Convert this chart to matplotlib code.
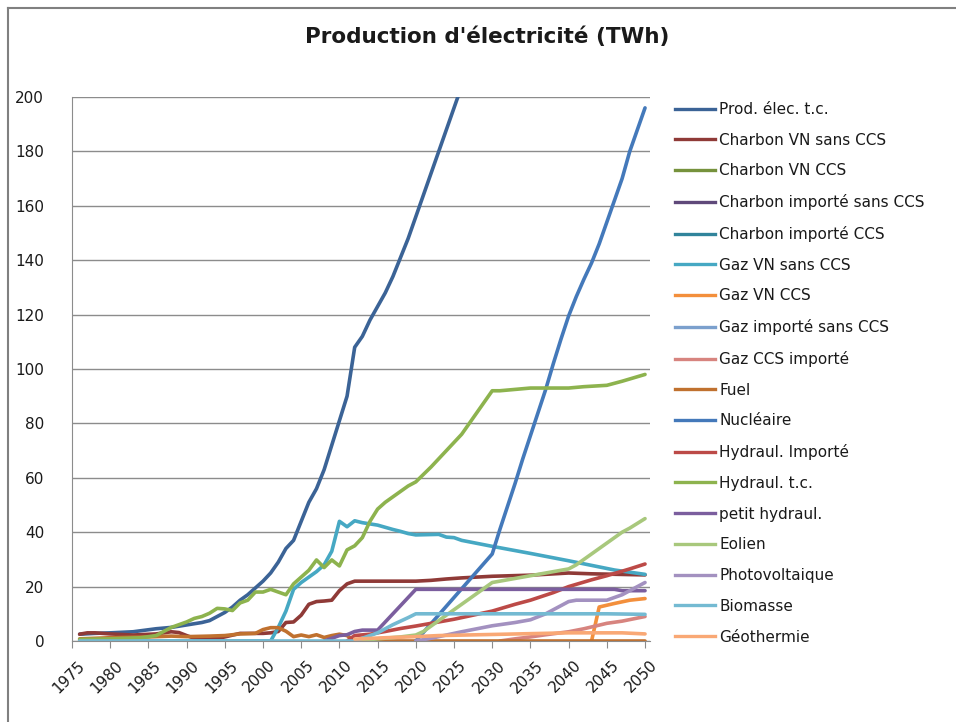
import matplotlib
matplotlib.use("Agg")
import numpy as np
import matplotlib.pyplot as plt
import matplotlib.transforms as mtransforms
from matplotlib.lines import Line2D

# Production d'électricité par filière (TWh), valeurs annuelles
prod_years = [1976, 1978, 1980, 1983, 1986, 1988, 1990, 1992, 1993, 1994, 1995,
              1996, 1997, 1998, 1999, 2000, 2001, 2002, 2003, 2004, 2005, 2006,
              2007, 2008, 2009, 2010, 2011, 2012, 2013, 2014, 2015, 2016, 2017,
              2018, 2019, 2020, 2021, 2022, 2023, 2024, 2025, 2026]
prod_vals = [2.5, 2.8, 3, 3.4, 4.5, 5, 5.9, 6.8, 7.5, 9, 10.5,
             12.5, 15, 17, 19.5, 22, 25, 29, 34, 37, 44, 51,
             56, 63, 72, 81, 90, 108, 112, 118, 123, 128, 134,
             141, 148, 156, 164, 172, 180, 188, 196, 204]

charbon_vn_years = [1976, 1977, 1978, 1980, 1983, 1986, 1988, 1989, 1990, 1991,
                    1992, 1994, 1995, 1997, 2000, 2001, 2002, 2003, 2004, 2005,
                    2006, 2007, 2008, 2009, 2010, 2011, 2012, 2015, 2020, 2022,
                    2024, 2026, 2030, 2035, 2040, 2043, 2050]
charbon_vn_vals = [2.5, 3, 3, 2.6, 2.2, 2.6, 3.4, 3.1, 2, 1,
                   0.6, 0.9, 1.5, 2.8, 2.8, 3, 3.5, 6.8, 7, 9.5,
                   13.5, 14.5, 14.7, 15, 18.5, 21, 22, 22, 22, 22.3,
                   22.8, 23.2, 23.8, 24.2, 25, 24.7, 24.3]

charbon_vn_ccs_years = []
charbon_vn_ccs_vals = []
charbon_imp_years = []
charbon_imp_vals = []
charbon_imp_ccs_years = []
charbon_imp_ccs_vals = []

gaz_vn_years = [1976, 2001, 2002, 2003, 2004, 2005, 2006, 2007, 2008, 2009, 2010,
                2011, 2012, 2013, 2015, 2017, 2018, 2019, 2020, 2023, 2024, 2025,
                2026, 2030, 2035, 2040, 2046, 2050]
gaz_vn_vals = [0, 0, 5, 11, 19, 21.5, 23.5, 25.5, 28, 33, 44,
               42, 44.2, 43.5, 42.6, 41, 40.3, 39.5, 39, 39.2, 38.2, 38,
               37, 34.8, 32.2, 29.5, 26.1, 24.5]

gaz_vn_ccs_years = [2043, 2044, 2046, 2048, 2050]
gaz_vn_ccs_vals = [0, 12.5, 13.8, 15, 15.6]

gaz_imp_years = []
gaz_imp_vals = []

gaz_ccs_imp_years = [2031, 2033, 2035, 2037, 2040, 2042, 2045, 2047, 2050]
gaz_ccs_imp_vals = [0, 0.8, 1.5, 2.3, 3.4, 4.5, 6.5, 7.3, 9]

fuel_years = [1976, 1980, 1985, 1988, 1990, 1993, 1995, 1997, 1999, 2000, 2001,
              2002, 2003, 2004, 2005, 2006, 2007, 2008, 2009, 2010, 2011, 2012,
              2050]
fuel_vals = [0.8, 1.2, 1.5, 1.8, 1.6, 1.8, 2, 2.6, 2.8, 4.2, 4.9,
             4.9, 3.6, 1.6, 2.2, 1.6, 2.3, 1.3, 2, 2.5, 2, 0,
             0]

nucl_years = [2020, 2025, 2030, 2031, 2032, 2033, 2034, 2035, 2036, 2037, 2038,
              2039, 2040, 2041, 2042, 2043, 2044, 2045, 2046, 2047, 2048, 2049,
              2050]
nucl_vals = [0, 16, 32, 41, 49.5, 58, 67, 75.5, 84, 92.5, 102,
             111, 119.5, 126.6, 133, 139, 146, 154, 162, 170, 180, 188,
             196]

hydro_imp_years = [2011, 2012, 2014, 2016, 2018, 2020, 2022, 2025, 2028, 2030,
                   2033, 2035, 2038, 2040, 2043, 2045, 2048, 2050]
hydro_imp_vals = [0, 2, 2.5, 3.5, 4.6, 5.5, 6.5, 8, 9.8, 11,
                  13.5, 15, 17.8, 20, 22.5, 24, 26.5, 28.3]

hydro_years = [1976, 1980, 1984, 1986, 1987, 1988, 1989, 1990, 1991, 1992, 1993,
               1994, 1995, 1996, 1997, 1998, 1999, 2000, 2001, 2002, 2003, 2004,
               2005, 2006, 2007, 2008, 2009, 2010, 2011, 2012, 2013, 2014, 2015,
               2016, 2017, 2018, 2019, 2020, 2022, 2024, 2026, 2027, 2028, 2029,
               2030, 2031, 2033, 2035, 2040, 2042, 2045, 2047, 2050]
hydro_vals = [0.6, 0.8, 1.2, 2, 3.5, 5, 6, 7, 8.3, 9, 10.2,
              12, 11.8, 11.2, 14, 15, 18, 18, 19, 18, 17, 21,
              23.5, 26, 29.8, 27, 29.8, 27.6, 33.5, 35, 38, 44, 48.5,
              51, 53, 55, 57, 58.5, 64, 70, 76, 80, 84, 88,
              92, 92, 92.5, 93, 93, 93.5, 94, 95.5, 98]

petit_hydro_years = [2008, 2009, 2010, 2011, 2012, 2013, 2015, 2016, 2017, 2018,
                     2019, 2020, 2046, 2047, 2050]
petit_hydro_vals = [0, 1, 2, 2.3, 3.5, 4, 4, 7, 10, 13,
                    16, 19, 19, 18.5, 18.5]

eolien_years = [2012, 2015, 2018, 2020, 2021, 2022, 2024, 2026, 2028, 2030, 2031,
                2033, 2035, 2038, 2040, 2041, 2043, 2045, 2047, 2048, 2050]
eolien_vals = [0, 0.8, 1.5, 2.2, 3.5, 5.5, 9.5, 13.5, 17.5, 21.5, 22,
               23, 24, 25.5, 26.5, 28, 32, 36, 40, 41.5, 45]

pv_years = [2020, 2022, 2024, 2026, 2028, 2030, 2033, 2035, 2037, 2040, 2041,
            2045, 2047, 2050]
pv_vals = [0, 1, 2.2, 3.4, 4.5, 5.6, 6.8, 7.8, 10, 14.5, 15,
           15, 17, 21.5]

biomasse_years = [1976, 2012, 2013, 2014, 2015, 2016, 2017, 2018, 2019, 2020,
                  2045, 2050]
biomasse_vals = [0, 0, 1, 2, 3, 4.5, 6, 7.3, 8.6, 10,
                 10, 9.8]

geo_years = [2012, 2016, 2020, 2023, 2030, 2040, 2047, 2050]
geo_vals = [0.7, 1.2, 1.6, 2, 2.4, 3, 3, 2.6]

series = [
    ("Prod. élec. t.c.", prod_years, prod_vals, "#3b6396"),
    ("Charbon VN sans CCS", charbon_vn_years, charbon_vn_vals, "#8f3a37"),
    ("Charbon VN CCS", charbon_vn_ccs_years, charbon_vn_ccs_vals, "#76923c"),
    ("Charbon importé sans CCS", charbon_imp_years, charbon_imp_vals, "#5f497a"),
    ("Charbon importé CCS", charbon_imp_ccs_years, charbon_imp_ccs_vals, "#31849b"),
    ("Gaz VN sans CCS", gaz_vn_years, gaz_vn_vals, "#46a8c3"),
    ("Gaz VN CCS", gaz_vn_ccs_years, gaz_vn_ccs_vals, "#f38f3c"),
    ("Gaz importé sans CCS", gaz_imp_years, gaz_imp_vals, "#7ba0cd"),
    ("Gaz CCS importé", gaz_ccs_imp_years, gaz_ccs_imp_vals, "#d7847f"),
    ("Fuel", fuel_years, fuel_vals, "#c0712f"),
    ("Nucléaire", nucl_years, nucl_vals, "#4479ba"),
    ("Hydraul. Importé", hydro_imp_years, hydro_imp_vals, "#bc4a47"),
    ("Hydraul. t.c.", hydro_years, hydro_vals, "#8db34e"),
    ("petit hydraul.", petit_hydro_years, petit_hydro_vals, "#7b5e9e"),
    ("Eolien", eolien_years, eolien_vals, "#a8c87c"),
    ("Photovoltaique", pv_years, pv_vals, "#a391c0"),
    ("Biomasse", biomasse_years, biomasse_vals, "#74bad2"),
    ("Géothermie", geo_years, geo_vals, "#f9a875"),
]

plt.rcParams["font.family"] = ["DejaVu Sans"]

W, H = 956, 722
fig = plt.figure(figsize=(W / 100, H / 100), dpi=100)
ax = fig.add_axes([72 / W, 1 - 641 / H, (650 - 72) / W, (641 - 97) / H])

for label, xs, ys, col in series:
    ax.plot(xs, ys, color=col, lw=2.6, label=label, solid_capstyle="round",
            solid_joinstyle="round")

ax.set_xlim(1975, 2050.65)
ax.set_ylim(0, 200)
ax.set_yticks(np.arange(0, 201, 20))
ax.set_xticks(np.arange(1975, 2051, 5))
ax.yaxis.grid(True, color="#8c8c8c", lw=1)
ax.set_axisbelow(True)
for side in ["top", "right"]:
    ax.spines[side].set_visible(False)
for side in ["left", "bottom"]:
    ax.spines[side].set_color("#8c8c8c")
ax.tick_params(axis="y", length=0, pad=20, labelsize=11, labelcolor="#1a1a1a")
ax.tick_params(axis="x", length=5, color="#8c8c8c", labelsize=11,
               labelcolor="#1a1a1a", pad=2)
shift = mtransforms.ScaledTranslation(5 / 100, -7 / 100, fig.dpi_scale_trans)
for lab in ax.get_xticklabels():
    lab.set_rotation(45)
    lab.set_ha("right")
    lab.set_rotation_mode("anchor")
    lab.set_transform(lab.get_transform() + shift)

fig.text(487 / W, 1 - 37 / H, "Production d'électricité (TWh)", ha="center",
         va="center", fontsize=15.5, fontweight="bold", color="#1a1a1a")

handles = [Line2D([], [], color=c, lw=2.4) for _, _, _, c in series]
labels = [s[0] for s in series]
fig.legend(handles, labels, loc="upper left",
           bbox_to_anchor=(675 / W, 1 - 102 / H), frameon=False, fontsize=11,
           handlelength=2.6, handletextpad=0.3, labelspacing=1.03,
           borderpad=0, borderaxespad=0, labelcolor="#1a1a1a")

# cadre du graphique
fig.add_artist(Line2D([8 / W, 8 / W], [0, 1 - 8 / H], color="#808080", lw=1.5))
fig.add_artist(Line2D([8 / W, 1], [1 - 8 / H, 1 - 8 / H], color="#808080", lw=1.5))

fig.savefig("out.png", dpi=100)
